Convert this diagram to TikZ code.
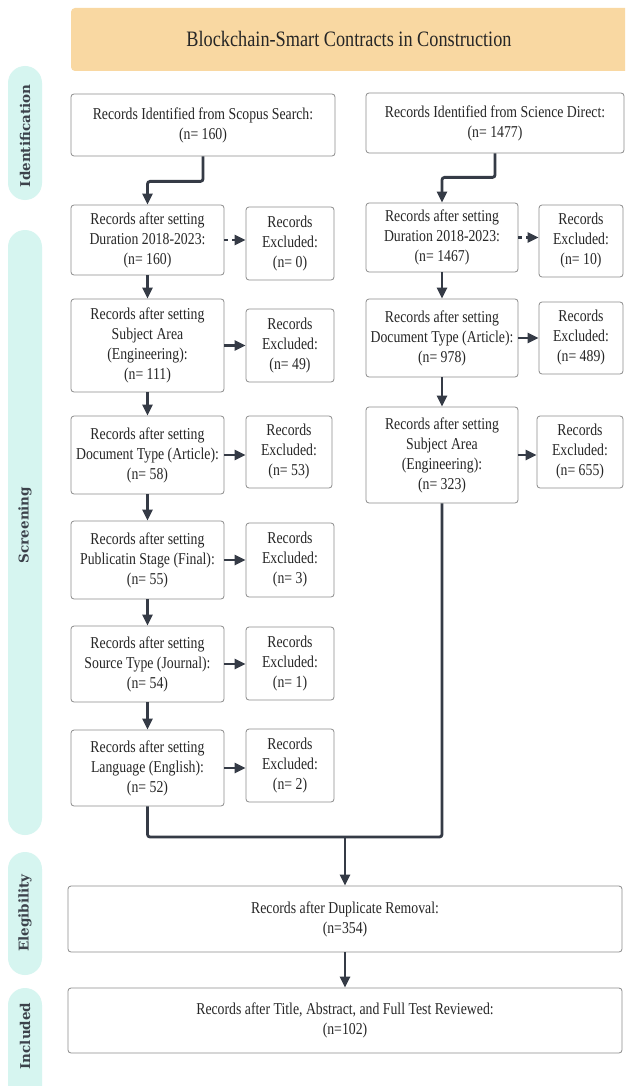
\documentclass[tikz,border=0pt]{standalone}
\usepackage{fontspec}
\setmainfont{Liberation Serif}[FakeStretch=0.83]
\newfontfamily\titlefont{Liberation Serif}[FakeStretch=0.83]
\newfontfamily\sidefont{DejaVu Serif}
\usetikzlibrary{arrows.meta}
\definecolor{txt}{HTML}{262626}
\definecolor{arr}{HTML}{353B46}
\definecolor{boxline}{HTML}{8C8C8C}
\definecolor{peach}{HTML}{F9D8A2}
\definecolor{mint}{HTML}{D6F5F0}
\definecolor{sidetxt}{HTML}{3C424B}
\begin{document}
\begin{tikzpicture}[x=1pt,y=-1pt,
 box/.style={draw=boxline, line width=0.8pt, rounded corners=3pt, fill=white, align=center,
   font=\fontsize{16.6}{20}\selectfont, text=txt, inner sep=0pt},
 mainbox/.style={box, minimum width=153},
 exbox/.style={box, minimum width=88, minimum height=73},
 flowline/.style={draw=arr, line width=2.8pt, rounded corners=2.5pt},
 flow/.style={flowline, -{Triangle[length=11pt,width=10pt]}},
 dflow/.style={flow, dash pattern=on 4pt off 4pt},
 pill/.style={fill=mint, rounded corners=17pt},
 side/.style={rotate=90, font=\sidefont\bfseries\fontsize{13.5}{15}\selectfont, text=sidetxt}]
\useasboundingbox (0,0) rectangle (625,1086);
\fill[white] (0,0) rectangle (625,1086);
\begin{scope}
\clip (0,0) rectangle (625,1086);
% title band
\fill[peach, rounded corners=4pt] (71,8) rectangle (640,71);
\node[font=\titlefont\fontsize{22}{24}\selectfont, text=txt] (title) at (349,39) {Blockchain-Smart Contracts in Construction};
% side pills
\fill[pill] (8,66) rectangle (42,200);
\node[side] (lid) at (25,136) {Identification};
\fill[pill] (8,230) rectangle (42,835);
\node[side] (lsc) at (25,525) {Screening};
\fill[pill] (8,852) rectangle (42,975);
\node[side] (lel) at (25,913) {Elegibility};
\fill[pill] (8,988) rectangle (42,1110);
\node[side] (lin) at (25,1036) {Included};
\end{scope}
% identification
\node[box, minimum width=264, minimum height=62] (scopus) at (203,125) {Records Identified from Scopus Search:\\(n= 160)};
\node[box, minimum width=258, minimum height=60] (sd) at (495,123) {Records Identified from Science Direct:\\(n= 1477)};
% left column
\node[mainbox, minimum height=70] (d1) at (147.5,240) {Records after setting\\Duration 2018-2023:\\(n= 160)};
\node[exbox] (e0) at (290,243.5) {Records\\Excluded:\\(n= 0)};
\node[mainbox, minimum height=93] (s1) at (147.5,345.5) {Records after setting\\Subject Area\\(Engineering):\\(n= 111)};
\node[exbox] (e49) at (290,345.5) {Records\\Excluded:\\(n= 49)};
\node[mainbox, minimum height=78] (t1) at (147.5,455) {Records after setting\\Document Type (Article):\\(n= 58)};
\node[exbox, minimum width=86, minimum height=72] (e53) at (289,452) {Records\\Excluded:\\(n= 53)};
\node[mainbox, minimum height=78] (p1) at (147.5,560) {Records after setting\\Publicatin Stage (Final):\\(n= 55)};
\node[exbox, minimum height=74] (e3) at (290,560) {Records\\Excluded:\\(n= 3)};
\node[mainbox, minimum height=76] (src) at (147.5,664) {Records after setting\\Source Type (Journal):\\(n= 54)};
\node[exbox] (e1) at (290,663.5) {Records\\Excluded:\\(n= 1)};
\node[mainbox, minimum height=76] (lang) at (147.5,768) {Records after setting\\Language (English):\\(n= 52)};
\node[exbox] (e2) at (290,765.5) {Records\\Excluded:\\(n= 2)};
% right column
\node[mainbox, minimum width=152, minimum height=69] (d2) at (442,237.5) {Records after setting\\Duration 2018-2023:\\(n= 1467)};
\node[exbox, minimum width=84, minimum height=72] (e10) at (581,241) {Records\\Excluded:\\(n= 10)};
\node[mainbox, minimum width=152, minimum height=78] (t2) at (442,338) {Records after setting\\Document Type (Article):\\(n= 978)};
\node[exbox, minimum width=84, minimum height=72] (e489) at (581,338) {Records\\Excluded:\\(n= 489)};
\node[mainbox, minimum width=152, minimum height=96] (s2) at (442,455) {Records after setting\\Subject Area\\(Engineering):\\(n= 323)};
\node[exbox, minimum width=86, minimum height=72] (e655) at (580,452) {Records\\Excluded:\\(n= 655)};
% eligibility / included
\node[box, minimum width=554, minimum height=66] (dup) at (345,919) {Records after Duplicate Removal:\\(n=354)};
\node[box, minimum width=554, minimum height=65] (inc) at (345,1020.5) {Records after Title, Abstract, and Full Test Reviewed:\\(n=102)};
\coordinate (m) at (345,837);
% connectors
\draw[flow] (scopus.south) -- ++(0,25) -| (d1.north);
\draw[flow] (sd.south) -- ++(0,24) -| (d2.north);
\draw[flow] (d1.south) -- (s1.north);
\draw[flow] (s1.south) -- (t1.north);
\draw[flow] (t1.south) -- (p1.north);
\draw[flow] (p1.south) -- (src.north);
\draw[flow] (src.south) -- (lang.north);
\draw[flow] (d2.south) -- (t2.north);
\draw[flow] (t2.south) -- (s2.north);
\draw[dflow] (d1.east) -- (d1.east -| e0.west);
\draw[flow] (s1.east) -- (s1.east -| e49.west);
\draw[flow] (t1.east) -- (t1.east -| e53.west);
\draw[flow] (p1.east) -- (p1.east -| e3.west);
\draw[flow] (src.east) -- (src.east -| e1.west);
\draw[flow] (lang.east) -- (lang.east -| e2.west);
\draw[dflow] (d2.east) -- (d2.east -| e10.west);
\draw[flow] (t2.east) -- (t2.east -| e489.west);
\draw[flow] (s2.east) -- (s2.east -| e655.west);
\draw[flowline] (lang.south) |- (m) -| (s2.south);
\draw[flow] (m) -- (dup.north);
\draw[flow] (dup.south) -- (inc.north);
\end{tikzpicture}
\end{document}
